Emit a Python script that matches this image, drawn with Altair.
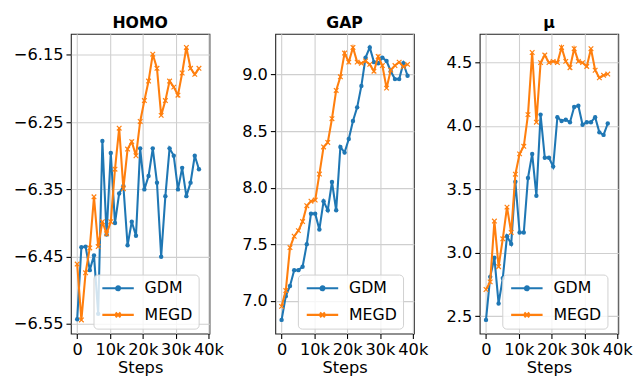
import altair as alt
import pandas as pd

SERIES = ["GDM", "MEGD"]
COLORS = ["#1f77b4", "#ff7f0e"]

STEPS = [0, 1280, 2560, 3840, 5120, 6400, 7680, 8960, 10240, 11520, 12800,
         14080, 15360, 16640, 17920, 19200, 20480, 21760, 23040, 24320, 25600,
         26880, 28160, 29440, 30720, 32000, 33280, 34560, 35840, 37120, 38400]

HOMO_GDM = [-6.543, -6.436, -6.435, -6.470, -6.448, -6.535, -6.278, -6.417, -6.296, -6.400,
            -6.356, -6.345, -6.433, -6.398, -6.419, -6.289, -6.350, -6.330, -6.289, -6.340,
            -6.450, -6.360, -6.289, -6.300, -6.350, -6.318, -6.360, -6.340, -6.300, -6.320]
HOMO_MEGD = [-6.461, -6.544, -6.474, -6.437, -6.361, -6.435, -6.398, -6.416, -6.398, -6.320,
             -6.259, -6.349, -6.290, -6.279, -6.300, -6.249, -6.218, -6.189, -6.149, -6.170,
             -6.240, -6.218, -6.189, -6.198, -6.210, -6.177, -6.139, -6.170, -6.179, -6.170]
GAP_GDM = [6.83, 7.04, 7.13, 7.27, 7.27, 7.30, 7.50, 7.77, 7.77, 7.63, 7.88, 7.80, 8.05,
           7.80, 8.36, 8.31, 8.43, 8.59, 8.71, 8.90, 9.15, 9.24, 9.11, 9.10, 9.15, 9.12,
           9.03, 8.96, 8.96, 9.10, 8.99]
GAP_MEGD = [6.95, 7.09, 7.47, 7.57, 7.62, 7.70, 7.84, 7.88, 7.89, 8.12, 8.36, 8.40, 8.61,
            8.86, 8.98, 9.19, 9.11, 9.24, 9.11, 9.10, 9.12, 9.09, 9.03, 9.16, 9.08, 8.88,
            9.04, 9.08, 9.11, 9.07, 9.09]
MU_GDM = [2.47, 2.81, 2.96, 2.60, 2.80, 3.13, 3.07, 3.56, 3.16, 3.16, 3.59, 3.78, 3.45,
          4.09, 3.75, 3.75, 3.68, 4.07, 4.04, 4.05, 4.03, 4.15, 4.16, 4.01, 4.03, 4.03,
          4.07, 3.95, 3.93, 4.02]
MU_MEGD = [2.71, 2.77, 3.25, 2.89, 3.11, 3.36, 3.16, 3.62, 3.78, 3.84, 4.09, 4.58, 4.03,
           4.50, 4.56, 4.50, 4.51, 4.50, 4.62, 4.51, 4.46, 4.61, 4.51, 4.50, 4.47, 4.61,
           4.44, 4.38, 4.40, 4.41]

HOMO_TICKS = [-6.55, -6.45, -6.35, -6.25, -6.15]
GAP_TICKS = [7.0, 7.5, 8.0, 8.5, 9.0]
MU_TICKS = [2.5, 3.0, 3.5, 4.0, 4.5]
X_TICKS = [0, 10000, 20000, 30000, 40000]

FONT = "DejaVu Sans"
# legend symbols: a line segment with the series marker in its middle
GDM_LEG_PATH = "M-1,0L5.4,0M1.8,0A0.4,0.4,0,1,1,2.6,0A0.4,0.4,0,1,1,1.8,0Z"
MEGD_LEG_PATH = "M-1,0L5.4,0M1.7,-0.5L2.7,0.5M1.7,0.5L2.7,-0.5"
X_PATH = "M-1,-1L1,1M-1,1L1,-1"


def make_df(gdm, megd):
    rows = []
    for s, v in zip(STEPS, gdm):
        rows.append({"step": s, "value": v, "series": "GDM"})
    for s, v in zip(STEPS, megd):
        rows.append({"step": s, "value": v, "series": "MEGD"})
    return pd.DataFrame(rows)


def panel(title, gdm, megd, ticks, fmt):
    df = make_df(gdm, megd)
    lo = min(gdm + megd)
    hi = max(gdm + megd)
    m = (hi - lo) * 0.05
    x = alt.X("step:Q",
              scale=alt.Scale(domain=[-1920, 40320], nice=False, zero=False),
              axis=alt.Axis(values=X_TICKS, title="Steps",
                            labelExpr="datum.value == 0 ? '0' : (datum.value / 1000) + 'k'",
                            labelOverlap=False, labelFlush=False))
    y = alt.Y("value:Q",
              scale=alt.Scale(domain=[lo - m, hi + m], nice=False, zero=False),
              axis=alt.Axis(values=ticks, format=fmt, title=None, labelOverlap=False))
    leg = alt.Legend(title=None, orient="none", legendX=23, legendY=245,
                     labelFontSize=16, labelFont=FONT, labelColor="black",
                     symbolSize=100, symbolStrokeWidth=2.1, labelOffset=30,
                     padding=6, rowPadding=11, fillColor="rgba(255,255,255,0.8)",
                     strokeColor="#d0d0d0", cornerRadius=4, symbolOpacity=1)
    base = alt.Chart(df)
    legend_layer = base.mark_point(filled=False, size=100, strokeWidth=2.1).encode(
        x=x, y=y,
        color=alt.Color("series:N", scale=alt.Scale(domain=SERIES, range=COLORS), legend=leg),
        shape=alt.Shape("series:N", scale=alt.Scale(domain=SERIES, range=[GDM_LEG_PATH, MEGD_LEG_PATH]), legend=leg),
    ).transform_filter("false")
    layers = [legend_layer]
    for s, c in zip(SERIES, COLORS):
        sub = base.transform_filter(alt.datum.series == s)
        layers.append(sub.mark_line(color=c, strokeWidth=2.1).encode(x=x, y=y))
        if s == "GDM":
            layers.append(sub.mark_point(shape="circle", filled=True, color=c, size=20, opacity=1).encode(x=x, y=y))
        else:
            layers.append(sub.mark_point(shape=X_PATH, filled=False, color=c, size=22, strokeWidth=1.2, opacity=1).encode(x=x, y=y))
    return alt.layer(*layers).properties(
        width=141, height=305,
        title=alt.Title(title, fontSize=16, fontWeight="bold", font=FONT, offset=3, color="black"))


p1 = panel("HOMO", HOMO_GDM, HOMO_MEGD, HOMO_TICKS, ".2f")
p2 = panel("GAP", GAP_GDM, GAP_MEGD, GAP_TICKS, ".1f")
p3 = panel("μ", MU_GDM, MU_MEGD, MU_TICKS, ".1f")

chart = alt.hconcat(p1, p2, p3, spacing=67, bounds="flush").resolve_scale(
    color="independent", shape="independent", x="independent", y="independent"
).resolve_legend(color="independent", shape="independent").properties(
    padding={"left": 4, "top": 3, "right": 0, "bottom": 0}
).configure_view(
    stroke="#222222", strokeWidth=1.1
).configure_axis(
    domain=False, grid=True, gridColor="#cfcfcf", gridWidth=1.1,
    ticks=True, tickColor="black", tickSize=5, tickWidth=1.1,
    labelFont=FONT, labelFontSize=16.5, labelColor="black", labelPadding=3,
    titleFont=FONT, titleFontSize=16.5, titleFontWeight="normal", titleColor="black",
    titlePadding=2
)

chart.save("out.html", embed_options={"renderer": "svg", "actions": False})
